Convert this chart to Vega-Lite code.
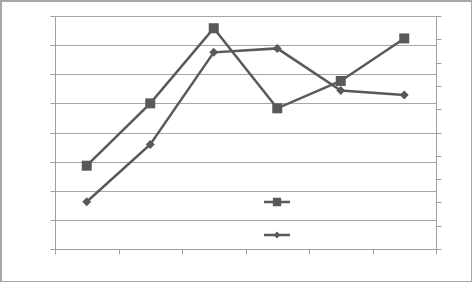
{
  "$schema": "https://vega.github.io/schema/vega-lite/v6.json",
  "width": 471,
  "height": 281,
  "autosize": "none",
  "padding": {"left": 1, "top": 1, "right": 0, "bottom": 0},
  "background": "white",
  "config": {
    "view": {"stroke": "#a6a6a6", "strokeWidth": 2},
    "axis": {"labels": false, "title": null, "domainColor": "#a0a0a0", "tickColor": "#a0a0a0", "tickSize": 5, "domainWidth": 1, "tickWidth": 1}
  },
  "data": {
    "values": [
      {"c": 1, "s": "Series 1", "v": 2.86},
      {"c": 2, "s": "Series 1", "v": 5.0},
      {"c": 3, "s": "Series 1", "v": 7.58},
      {"c": 4, "s": "Series 1", "v": 4.83},
      {"c": 5, "s": "Series 1", "v": 5.77},
      {"c": 6, "s": "Series 1", "v": 7.23},
      {"c": 1, "s": "Series 2", "v": 2.03},
      {"c": 2, "s": "Series 2", "v": 4.49},
      {"c": 3, "s": "Series 2", "v": 8.44},
      {"c": 4, "s": "Series 2", "v": 8.61},
      {"c": 5, "s": "Series 2", "v": 6.8},
      {"c": 6, "s": "Series 2", "v": 6.61}
    ]
  },
  "layer": [
    {
      "transform": [{"filter": "datum.s === 'Series 1'"}],
      "mark": {"type": "line", "color": "#595959", "strokeWidth": 2.5, "point": {"shape": "square", "size": 100, "filled": true, "color": "#595959", "opacity": 1}},
      "encoding": {
        "x": {"field": "c", "type": "ordinal", "scale": {"type": "band", "range": [54, 435], "paddingInner": 0, "paddingOuter": 0},
              "axis": {"orient": "bottom", "offset": -33, "tickBand": "extent", "domain": true, "grid": false}},
        "y": {"field": "v", "type": "quantitative", "scale": {"domain": [0, 8], "range": [248, 15], "nice": false, "zero": false},
              "axis": {"orient": "left", "offset": -54, "values": [0, 1, 2, 3, 4, 5, 6, 7, 8], "grid": true, "gridColor": "#a6a6a6", "gridWidth": 1}}
      }
    },
    {
      "transform": [{"filter": "datum.s === 'Series 2'"}],
      "mark": {"type": "line", "color": "#595959", "strokeWidth": 2.5, "point": {"shape": "diamond", "size": 81, "filled": true, "color": "#595959", "opacity": 1}},
      "encoding": {
        "x": {"field": "c", "type": "ordinal"},
        "y": {"field": "v", "type": "quantitative", "scale": {"domain": [0, 10], "range": [248, 15], "nice": false, "zero": false},
              "axis": {"orient": "right", "offset": -36, "values": [0, 1, 2, 3, 4, 5, 6, 7, 8, 9, 10], "grid": false}}
      }
    },
    {
      "mark": {"type": "point", "opacity": 0, "filled": true, "color": "#595959"},
      "encoding": {
        "shape": {"field": "s", "type": "nominal",
          "scale": {"domain": ["Series 1", "Series 2"], "range": ["M-1,-0.1H1V0.1H-1Z M-0.32,-0.32H0.32V0.32H-0.32Z", "M-1,-0.1H1V0.1H-1Z M0,-0.27L0.27,0L0,0.27L-0.27,0Z"]},
          "legend": {"orient": "none", "legendX": 262, "legendY": 187, "title": null, "symbolSize": 676, "labelExpr": "''", "padding": 0, "rowPadding": 11, "labelOffset": 0,
            "symbolFillColor": "#595959", "symbolStrokeColor": "#595959", "symbolOpacity": 1,
            "encode": {"symbols": {"update": {"opacity": {"value": 1}, "fill": {"value": "#595959"}, "fillOpacity": {"value": 1}, "stroke": {"value": "#595959"}, "strokeWidth": {"value": 0}}}}}
        }
      }
    }
  ],
  "resolve": {"scale": {"y": "independent"}}
}
